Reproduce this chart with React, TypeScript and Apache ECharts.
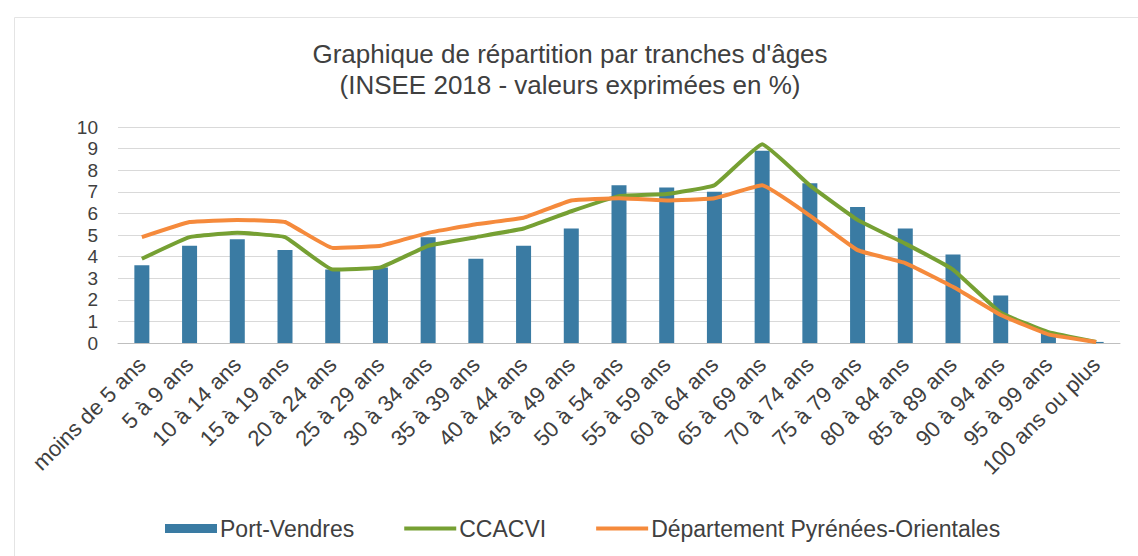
import React, { useEffect, useRef } from "react";
import * as echarts from "echarts";

const categories = [
  "moins de 5 ans", "5 à 9 ans", "10 à 14 ans", "15 à 19 ans", "20 à 24 ans",
  "25 à 29 ans", "30 à 34 ans", "35 à 39 ans", "40 à 44 ans", "45 à 49 ans",
  "50 à 54 ans", "55 à 59 ans", "60 à 64 ans", "65 à 69 ans", "70 à 74 ans",
  "75 à 79 ans", "80 à 84 ans", "85 à 89 ans", "90 à 94 ans", "95 à 99 ans",
  "100 ans ou plus",
];

const portVendres = [3.6, 4.5, 4.8, 4.3, 3.4, 3.5, 4.9, 3.9, 4.5, 5.3, 7.3, 7.2, 7.0, 8.9, 7.4, 6.3, 5.3, 4.1, 2.2, 0.5, 0.05];
const ccacvi = [3.9, 4.9, 5.1, 4.9, 3.4, 3.5, 4.5, 4.9, 5.3, 6.1, 6.8, 6.9, 7.3, 9.2, 7.3, 5.7, 4.6, 3.4, 1.4, 0.5, 0.05];
const departement = [4.9, 5.6, 5.7, 5.6, 4.4, 4.5, 5.1, 5.5, 5.8, 6.6, 6.7, 6.6, 6.7, 7.3, 5.9, 4.3, 3.7, 2.6, 1.3, 0.4, 0.05];

const titleText = "Graphique de répartition par tranches d'âges\n(INSEE 2018 - valeurs exprimées en %)";
const seriesNames = ["Port-Vendres", "CCACVI", "Département Pyrénées-Orientales"];

export default function App() {
  const ref = useRef<HTMLDivElement>(null);
  useEffect(() => {
    if (!ref.current) return;
    const chart = echarts.init(ref.current, null, { renderer: "svg" });
    const font = "Liberation Sans, Arial, sans-serif";
    const lineIcon = "path://M0,0L50,0L50,4L0,4Z";
    chart.setOption({
      animation: false,
      backgroundColor: "#ffffff",
      textStyle: { fontFamily: font },
      graphic: [
        {
          type: "rect",
          left: 12,
          top: 15,
          shape: { width: 1150, height: 560 },
          style: { fill: "none", stroke: "#e4e4e4", lineWidth: 1 },
          silent: true,
        },
      ],
      title: {
        text: titleText,
        left: 565,
        textAlign: "center",
        top: 33,
        textStyle: { fontSize: 26, fontWeight: "normal", color: "#404040", lineHeight: 31, fontFamily: font },
      },
      legend: {
        top: 512,
        left: 160,
        itemGap: 50,
        itemWidth: 52,
        itemHeight: 9,
        textStyle: { fontSize: 23, color: "#404040", fontFamily: font, padding: [0, 0, 0, -2] },
        data: [
          { name: seriesNames[0], icon: "rect" },
          { name: seriesNames[1], icon: lineIcon },
          { name: seriesNames[2], icon: lineIcon },
        ],
      },
      grid: { left: 118, right: 18, top: 127, bottom: 213 },
      xAxis: {
        type: "category",
        data: categories,
        axisTick: { show: false },
        axisLine: { lineStyle: { color: "#bfbfbf" } },
        axisLabel: { rotate: 45, fontSize: 22, color: "#404040", margin: 18, interval: 0, fontFamily: font },
      },
      yAxis: {
        type: "value",
        min: 0,
        max: 10,
        interval: 1,
        axisLine: { show: false },
        axisTick: { show: false },
        axisLabel: { fontSize: 19, color: "#404040", margin: 20, fontFamily: font },
        splitLine: { lineStyle: { color: "#d9d9d9" } },
      },
      series: [
        {
          name: seriesNames[0],
          type: "bar",
          data: portVendres,
          barWidth: 15,
          itemStyle: { color: "#3a7ba3" },
        },
        {
          name: seriesNames[1],
          type: "line",
          data: ccacvi,
          symbol: "none",
          smooth: 0.1,
          lineStyle: { color: "#76a033", width: 4 },
          itemStyle: { color: "#76a033" },
        },
        {
          name: seriesNames[2],
          type: "line",
          data: departement,
          symbol: "none",
          smooth: 0.1,
          lineStyle: { color: "#f58a3c", width: 4 },
          itemStyle: { color: "#f58a3c" },
        },
      ],
    });
    return () => chart.dispose();
  }, []);
  return (
    <div
      ref={ref}
      style={{ position: "fixed", left: 0, top: 0, width: 1138, height: 556 }}
    />
  );
}
